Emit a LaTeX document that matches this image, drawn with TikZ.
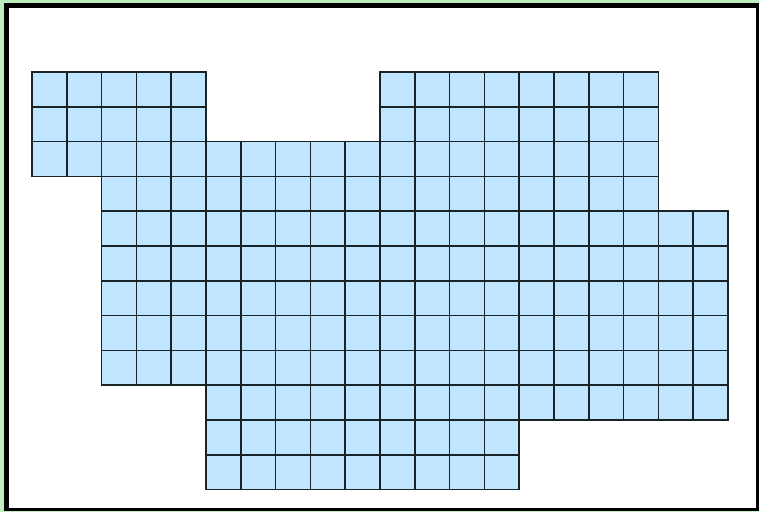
\documentclass[tikz,border=0pt]{standalone}
\definecolor{cellblue}{RGB}{192,230,255}
\definecolor{bggreen}{RGB}{190,238,190}
\definecolor{gridline}{RGB}{25,35,38}
\begin{document}
\begin{tikzpicture}[x=1pt,y=-1pt,
  cellbox/.style={fill=cellblue,draw=gridline,line width=1.7pt}]
\useasboundingbox (0,0) rectangle (759,512);
\fill[bggreen] (0,0) rectangle (759,512);
\fill[black] (4,3) rectangle (758.6,510.6);
\fill[white] (9,8) rectangle (756.2,508.2);
\def\cs{34.8}
\newcommand{\cellrow}[3]{%
  \foreach \c in {#2,...,#3}{%
    \draw[cellbox] ({32+\c*\cs},{72+#1*\cs}) rectangle ++(\cs,\cs);
  }}
\cellrow{0}{0}{4}\cellrow{0}{10}{17}
\cellrow{1}{0}{4}\cellrow{1}{10}{17}
\cellrow{2}{0}{17}
\cellrow{3}{2}{17}
\foreach \r in {4,...,8}{\cellrow{\r}{2}{19}}
\cellrow{9}{5}{19}
\cellrow{10}{5}{13}
\cellrow{11}{5}{13}
\end{tikzpicture}
\end{document}
